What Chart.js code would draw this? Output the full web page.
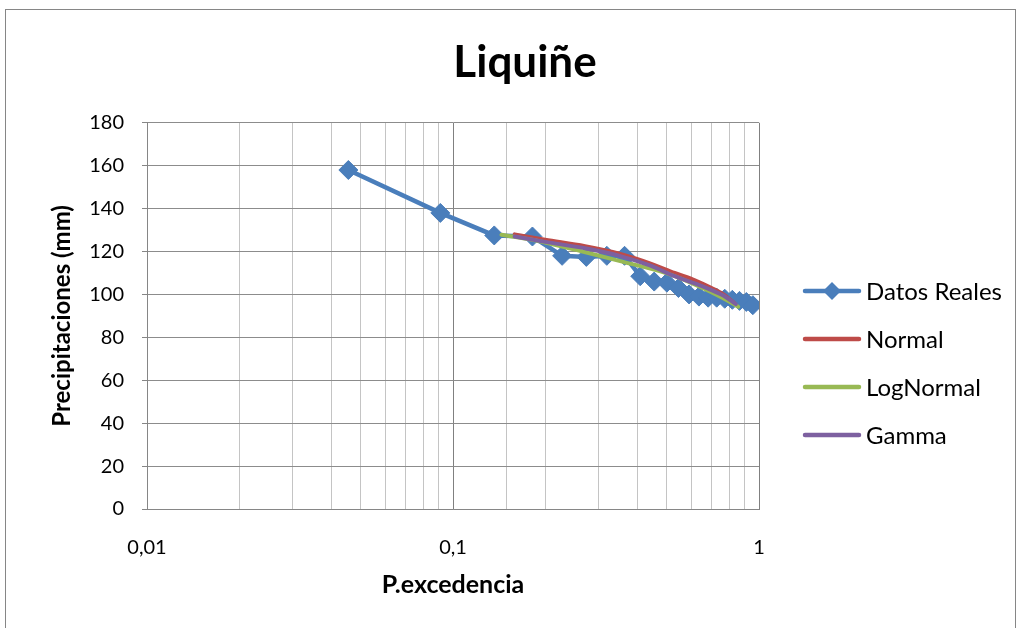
<!DOCTYPE html>
<html>
<head>
<meta charset="utf-8">
<script src="https://cdn.jsdelivr.net/npm/chart.js@4.4.1/dist/chart.umd.min.js"></script>
<style>
  html, body { margin: 0; padding: 0; background: #fff; }
  #wrap { width: 1021px; height: 628px; }
</style>
</head>
<body>
<div id="wrap"><canvas id="chart" width="1021" height="628"></canvas></div>
<script>
// Observed exceedance probabilities and precipitation (mm)
const probExc = [0.0455, 0.0909, 0.1364, 0.1818, 0.2273, 0.2727, 0.3182, 0.3636, 0.4091, 0.4545,
                 0.5, 0.5455, 0.5909, 0.6364, 0.6818, 0.7273, 0.7727, 0.8182, 0.8636, 0.9091, 0.9545];
const precipReal = [158, 138, 127.5, 127, 118, 117.5, 118, 118, 108.5, 106,
                    105.5, 103, 100, 99, 98.5, 98.5, 98, 97.5, 97, 96.5, 95];

// Fitted distributions
const normalP = [0.159, 0.20, 0.27, 0.35, 0.44, 0.53, 0.62, 0.70, 0.765, 0.83];
const normalV = [128, 125.5, 122.5, 119, 114.5, 110, 106.5, 103, 100, 96];

const logNormalP = [0.144, 0.183, 0.267, 0.36, 0.50, 0.64, 0.764, 0.855];
const logNormalV = [127.8, 125.4, 119.9, 115.2, 109.8, 103.6, 98.2, 94.3];

const gammaP = [0.159, 0.20, 0.27, 0.35, 0.44, 0.53, 0.62, 0.70, 0.765, 0.84];
const gammaV = [127, 124.5, 121.5, 118, 113.5, 108.5, 105, 102, 99.5, 95.5];

const seriesNames = ['Datos Reales', 'Normal', 'LogNormal', 'Gamma'];
const seriesColors = ['#4a7ebb', '#be4b48', '#98b954', '#7d60a0'];
const xTickLabels = ['0,01', '0,1', '1'];
const yTicks = { min: 0, max: 180, step: 20 };

const pairs = (xs, ys) => xs.map((x, i) => ({ x: x, y: ys[i] }));

const FONT = 'Lato, "Open Sans", sans-serif';
Chart.defaults.font.family = FONT;
Chart.defaults.color = '#000';

// Legend swatches: a short line, with a diamond for the observed series
function swatch(color, diamond) {
  const c = document.createElement('canvas');
  c.width = 60; c.height = 24;
  const g = c.getContext('2d');
  g.strokeStyle = color;
  g.lineWidth = 4.5;
  g.lineCap = 'round';
  g.beginPath(); g.moveTo(3, 12); g.lineTo(57, 12); g.stroke();
  if (diamond) {
    g.fillStyle = color;
    g.beginPath();
    g.moveTo(30, 3); g.lineTo(39, 12); g.lineTo(30, 21); g.lineTo(21, 12);
    g.closePath(); g.fill();
  }
  return c;
}
const swatches = seriesColors.map((c, i) => swatch(c, i === 0));

// White page with a thin grey frame around the chart
const framePlugin = {
  id: 'frame',
  beforeDraw(chart) {
    const { ctx, width, height } = chart;
    ctx.save();
    ctx.fillStyle = '#fff';
    ctx.fillRect(0, 0, width, height);
    ctx.strokeStyle = '#868686';
    ctx.lineWidth = 1;
    ctx.strokeRect(5.5, 9.5, width - 11, height + 20);
    ctx.restore();
  }
};

// Legend column to the right of the plot
const sideLegend = {
  id: 'sideLegend',
  afterDraw(chart, args, opts) {
    const { ctx } = chart;
    ctx.save();
    ctx.font = opts.fontSize + 'px ' + FONT;
    ctx.textBaseline = 'middle';
    ctx.textAlign = 'left';
    ctx.fillStyle = '#000';
    chart.data.datasets.forEach((ds, i) => {
      const y = opts.top + i * opts.step;
      const sw = swatches[i];
      ctx.drawImage(sw, opts.left - 3, y - sw.height / 2);
      ctx.fillText(ds.label, opts.textLeft, y + 1);
    });
    ctx.restore();
  }
};

const isDecade = v => {
  const e = Math.log10(v);
  return Math.abs(e - Math.round(e)) < 1e-6;
};

const fitStyle = (color, order) => ({
  showLine: true,
  borderColor: color,
  backgroundColor: color,
  borderWidth: 4,
  pointRadius: 0,
  pointHoverRadius: 0,
  cubicInterpolationMode: 'monotone',
  borderCapStyle: 'round',
  order: order
});

new Chart(document.getElementById('chart'), {
  type: 'scatter',
  data: {
    datasets: [
      {
        label: seriesNames[0],
        data: pairs(probExc, precipReal),
        showLine: true,
        borderColor: seriesColors[0],
        backgroundColor: seriesColors[0],
        borderWidth: 4.5,
        pointStyle: 'rectRot',
        pointRadius: 9.5,
        pointHoverRadius: 9.5,
        pointBorderWidth: 1,
        tension: 0,
        order: 4
      },
      Object.assign({ label: seriesNames[1], data: pairs(normalP, normalV) }, fitStyle(seriesColors[1], 3)),
      Object.assign({ label: seriesNames[2], data: pairs(logNormalP, logNormalV) }, fitStyle(seriesColors[2], 2)),
      Object.assign({ label: seriesNames[3], data: pairs(gammaP, gammaV) }, fitStyle(seriesColors[3], 1))
    ]
  },
  options: {
    responsive: false,
    animation: false,
    events: [],
    layout: { padding: { left: 46, right: 17, top: 0, bottom: 27 } },
    scales: {
      x: {
        type: 'logarithmic',
        min: 0.01,
        max: 1,
        border: { color: '#868686', width: 1 },
        grid: {
          drawTicks: false,
          color: ctx => (ctx.tick && isDecade(ctx.tick.value)) ? '#808080' : '#c4c4c4',
          lineWidth: 1
        },
        ticks: {
          autoSkip: false,
          maxRotation: 0,
          padding: 27,
          font: { size: 20 },
          callback: (value) => isDecade(value) ? xTickLabels[Math.round(Math.log10(value)) + 2] : ''
        },
        title: {
          display: true,
          text: 'P.excedencia',
          font: { size: 25, weight: 'bold' },
          padding: { top: 4, bottom: 1 }
        },
        afterFit: scale => { scale.height = 92; }
      },
      y: {
        min: yTicks.min,
        max: yTicks.max,
        border: { color: '#868686', width: 1 },
        grid: { color: '#8c8c8c', lineWidth: 1, drawTicks: true, tickLength: 5, tickColor: '#868686' },
        ticks: { stepSize: yTicks.step, padding: 18, font: { size: 20 } },
        title: {
          display: true,
          text: 'Precipitaciones (mm)',
          font: { size: 24, weight: 'bold' },
          padding: { top: 2, bottom: 4 }
        },
        afterFit: scale => { scale.width = 101; }
      },
      // empty right-hand strip that holds the legend column
      legendStrip: {
        type: 'linear',
        position: 'right',
        display: true,
        grid: { display: false, drawTicks: false },
        border: { display: false },
        ticks: { display: false },
        afterFit: scale => { scale.width = 245; }
      }
    },
    plugins: {
      title: {
        display: true,
        text: 'Liquiñe',
        font: { size: 44, weight: 'bold' },
        padding: { top: 36, bottom: 34 }
      },
      legend: { display: false },
      tooltip: { enabled: false },
      sideLegend: { left: 805, textLeft: 866, top: 291, step: 48, fontSize: 24 }
    }
  },
  plugins: [framePlugin, sideLegend]
});
</script>
</body>
</html>
